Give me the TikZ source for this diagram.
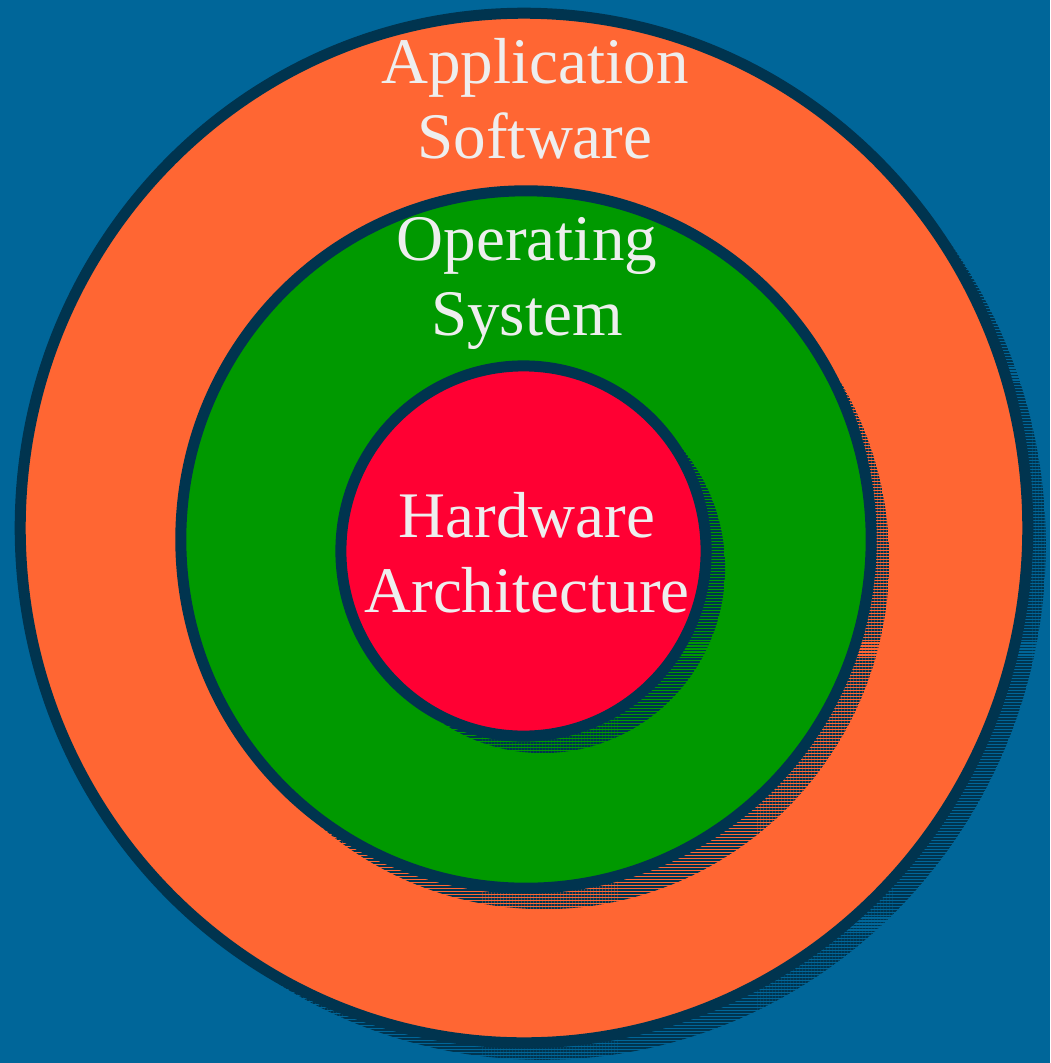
\documentclass[tikz,border=0pt]{standalone}
\usepackage{fontspec}
\setmainfont{Liberation Serif}
\usetikzlibrary{patterns.meta}
\definecolor{sea}{HTML}{006699}
\definecolor{rim}{HTML}{00344F}
\definecolor{apps}{HTML}{FF6633}
\definecolor{kernel}{HTML}{009900}
\definecolor{chip}{HTML}{FF0033}
\definecolor{inkwhite}{HTML}{EEEEEE}

\begin{document}
\begin{tikzpicture}[
  x=0.01cm, y=-0.01cm,
  ring/.style={draw=rim, line width=0.11cm},
  shade/.style={pattern={Lines[angle=0,distance=0.85pt,line width=0.55pt]},
                pattern color=rim},
  caption/.style={text=inkwhite, font=\fontsize{18.5}{21.3}\selectfont,
                  align=center, inner sep=0pt, anchor=base},
]

% background
\fill[sea] (0,0) rectangle (1050,1063);
\useasboundingbox (0,0) rectangle (1050,1063);

\coordinate (appc) at (524,528);
\coordinate (osc)  at (526,539.5);
\coordinate (hwc)  at (523.5,551);

% application software
\path[shade] ([shift={(18,17)}]appc) ellipse [x radius=5.035cm, y radius=5.145cm];
\path[ring, fill=apps] (appc) ellipse [x radius=5.035cm, y radius=5.145cm];

% operating system
\path[shade] ([shift={(18,21)}]osc) ellipse [x radius=3.45cm, y radius=3.485cm];
\path[ring, fill=kernel] (osc) ellipse [x radius=3.45cm, y radius=3.485cm];

% hardware
\path[shade] ([shift={(19,17)}]hwc) ellipse [x radius=1.825cm, y radius=1.85cm];
\path[ring, fill=chip] (hwc) ellipse [x radius=1.825cm, y radius=1.85cm];

% last line baselines
\node[caption] (applabel) at (535,158) {Application\\Software};
\node[caption] (oslabel)  at (527,335) {Operating\\System};
\node[caption] (hwlabel)  at (527,612) {Hardware\\Architecture};

\end{tikzpicture}
\end{document}
